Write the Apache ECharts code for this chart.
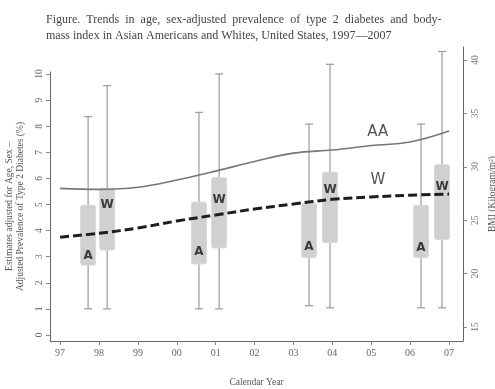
<!DOCTYPE html>
<html>
<head>
<meta charset="utf-8">
<title>Diabetes and BMI trends</title>
<script src="https://cdn.jsdelivr.net/npm/echarts@6/dist/echarts.min.js"></script>
<style>
  html, body { margin: 0; padding: 0; background: #fff; }
  #chart { width: 495px; height: 389px; }
</style>
</head>
<body>
<div id="chart"></div>
<script>
// x positions: 0 = 1997 ... 10 = 2007
var yearTicks = [0, 1, 2, 3, 4, 5, 6, 7, 8, 9, 10];
var yearLabels = ['97', '98', '99', '00', '01', '02', '03', '04', '05', '06', '07'];

// prevalence of type 2 diabetes (%), left axis
var prevAA = [5.62, 5.58, 5.66, 5.94, 6.28, 6.65, 6.97, 7.09, 7.26, 7.40, 7.82];
var prevW  = [3.75, 3.90, 4.10, 4.37, 4.60, 4.83, 5.02, 5.20, 5.29, 5.36, 5.40];
var prevTicks = [0, 1, 2, 3, 4, 5, 6, 7, 8, 9, 10];

// BMI boxes, right axis
var boxX     = [0.72, 1.21, 3.57, 4.09, 6.40, 6.94, 9.28, 9.82];
var boxGroup = ['A', 'W', 'A', 'W', 'A', 'W', 'A', 'W'];
var bmiLow   = [16.7, 16.7, 16.7, 16.7, 17.0, 16.8, 16.8, 16.8];
var bmiQ1    = [20.8, 22.2, 20.9, 22.4, 21.5, 22.9, 21.5, 23.2];
var bmiQ3    = [26.4, 28.0, 26.7, 29.0, 26.6, 29.5, 26.4, 30.2];
var bmiHigh  = [34.7, 37.6, 35.1, 38.7, 34.0, 39.6, 34.0, 40.8];
var bmiLabel = [21.7, 26.4, 22.0, 26.9, 22.5, 27.8, 22.4, 28.1];
var bmiTicks = [15, 20, 25, 30, 35, 40];

var serif = '"Liberation Serif", "DejaVu Serif", serif';
var chart = echarts.init(document.getElementById('chart'));

var aaData = [], wData = [], boxData = [];
for (var i = 0; i < yearTicks.length; i++) {
  aaData.push([yearTicks[i], prevAA[i]]);
  wData.push([yearTicks[i], prevW[i]]);
}
for (var j = 0; j < boxX.length; j++) {
  boxData.push({ name: boxGroup[j], value: [boxX[j], bmiLow[j], bmiQ1[j], bmiQ3[j], bmiHigh[j], bmiLabel[j]] });
}

var renderBox = function (params, api) {
  var x = api.value(0);
  var lo = api.coord([x, api.value(1)]);
  var q1 = api.coord([x, api.value(2)]);
  var q3 = api.coord([x, api.value(3)]);
  var hi = api.coord([x, api.value(4)]);
  var lb = api.coord([x, api.value(5)]);
  var half = 7.5, cap = 4;
  var lineStyle = { stroke: '#9a9a9a', lineWidth: 1.2 };
  return {
    type: 'group',
    children: [
      { type: 'line', shape: { x1: lo[0], y1: lo[1], x2: hi[0], y2: hi[1] }, style: lineStyle },
      { type: 'line', shape: { x1: lo[0] - cap, y1: lo[1], x2: lo[0] + cap, y2: lo[1] }, style: lineStyle },
      { type: 'line', shape: { x1: hi[0] - cap, y1: hi[1], x2: hi[0] + cap, y2: hi[1] }, style: lineStyle },
      { type: 'rect', shape: { x: q3[0] - half, y: q3[1], width: half * 2, height: q1[1] - q3[1], r: 2 },
        style: { fill: '#d0d0d0', stroke: '#dadada', lineWidth: 1 } },
      { type: 'text', x: lb[0], y: lb[1],
        style: { text: boxGroup[params.dataIndex], fill: '#3a3a3a', font: 'bold 12px "DejaVu Sans", sans-serif',
                 align: 'center', verticalAlign: 'middle' } }
    ]
  };
};

var option = {
  animation: false,
  title: {
    text: 'Figure.  Trends  in  age,  sex-adjusted  prevalence  of  type  2  diabetes  and  body-\nmass index in Asian Americans and Whites, United States, 1997\u20142007',
    left: 41, top: 7,
    textStyle: { fontFamily: serif, fontSize: 12, fontWeight: 'normal', color: '#444', lineHeight: 16 }
  },
  grid: [
    { left: 50, right: 32, top: 72, bottom: 48, outerBoundsMode: 'none', containLabel: false },
    { left: 50, right: 32, top: 47, bottom: 48, outerBoundsMode: 'none', containLabel: false }
  ],
  xAxis: [
    {
      type: 'value', gridIndex: 0, min: -0.26, max: 10.36,
      name: 'Calendar Year', nameLocation: 'middle', nameGap: 36,
      nameTextStyle: { fontFamily: serif, fontSize: 9.5, color: '#555' },
      axisLine: { onZero: false, lineStyle: { color: '#666', width: 1 } },
      axisTick: { show: true, length: 4, lineStyle: { color: '#888' }, customValues: yearTicks },
      axisLabel: {
        customValues: yearTicks, margin: 7, fontFamily: serif, fontSize: 10, color: '#666',
        formatter: function (v) { return yearLabels[Math.round(v)]; }
      },
      splitLine: { show: false }
    },
    {
      type: 'value', gridIndex: 1, min: -0.26, max: 10.36, show: false
    }
  ],
  yAxis: [
    {
      type: 'value', gridIndex: 0, position: 'left', min: -0.23, max: 10.08,
      name: 'Estimates adjusted for Age, Sex \u2013\nAdjusted Prevalence of Type 2 Diabetes (%)',
      nameLocation: 'middle', nameGap: 24, nameRotate: 90,
      nameTextStyle: { fontFamily: serif, fontSize: 9.5, color: '#555', lineHeight: 11 },
      axisLine: { show: true, onZero: false, lineStyle: { color: '#666', width: 1 } },
      axisTick: { show: true, length: 4, lineStyle: { color: '#888' }, customValues: prevTicks },
      axisLabel: { customValues: prevTicks, rotate: 90, margin: 6, fontFamily: serif, fontSize: 9.5, color: '#666' },
      splitLine: { show: false }
    },
    {
      type: 'value', gridIndex: 1, position: 'right', min: 13.69, max: 41.22,
      name: 'BMI (Kilogram/m\u00b2)', nameLocation: 'middle', nameGap: 6, nameRotate: 90,
      nameTextStyle: { fontFamily: serif, fontSize: 9.5, color: '#555' },
      axisLine: { show: true, onZero: false, lineStyle: { color: '#666', width: 1 } },
      axisTick: { show: true, length: 4, lineStyle: { color: '#888' }, customValues: bmiTicks },
      axisLabel: { customValues: bmiTicks, rotate: 90, margin: 7, fontFamily: serif, fontSize: 9.5, color: '#777' },
      splitLine: { show: false }
    }
  ],
  series: [
    {
      type: 'custom', name: 'BMI', xAxisIndex: 1, yAxisIndex: 1,
      renderItem: renderBox, data: boxData, z: 1
    },
    {
      type: 'line', name: 'AA', xAxisIndex: 0, yAxisIndex: 0, data: aaData,
      smooth: 0.4, symbol: 'none', z: 3,
      lineStyle: { color: '#777', width: 1.6 },
      markPoint: {
        symbol: 'circle', symbolSize: 1, itemStyle: { color: 'rgba(0,0,0,0)' },
        label: { show: true, position: 'inside', formatter: 'AA', fontFamily: '"DejaVu Sans", sans-serif', fontSize: 15, color: '#555' },
        data: [{ coord: [8.17, 7.78] }]
      }
    },
    {
      type: 'line', name: 'W', xAxisIndex: 0, yAxisIndex: 0, data: wData,
      smooth: 0.4, symbol: 'none', z: 4,
      lineStyle: { color: '#1e1e1e', width: 3, type: [9, 4] },
      markPoint: {
        symbol: 'circle', symbolSize: 1, itemStyle: { color: 'rgba(0,0,0,0)' },
        label: { show: true, position: 'inside', formatter: 'W', fontFamily: '"DejaVu Sans", sans-serif', fontSize: 15, color: '#555' },
        data: [{ coord: [8.17, 5.94] }]
      }
    }
  ]
};
chart.setOption(option);
</script>
</body>
</html>
